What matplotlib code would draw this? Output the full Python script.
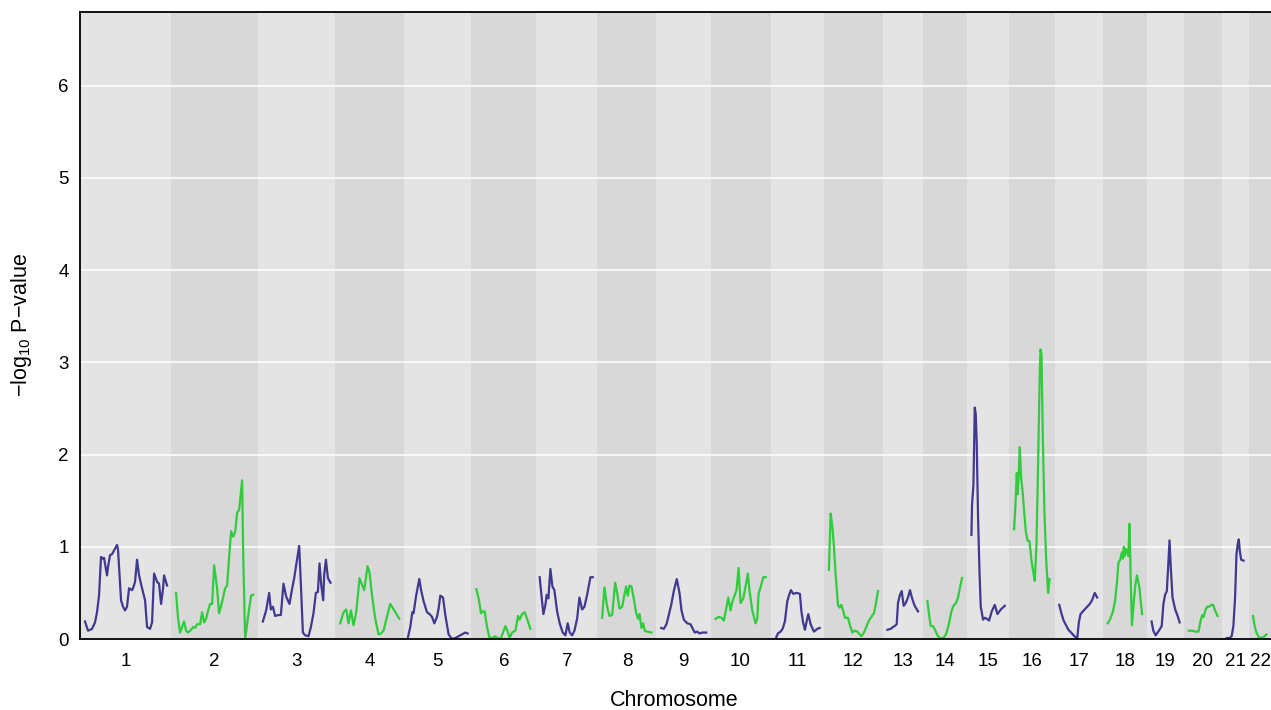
import numpy as np
import matplotlib
matplotlib.use('Agg')
import matplotlib.pyplot as plt

plt.rcParams['font.family'] = ['Liberation Sans', 'DejaVu Sans']
plt.rcParams['mathtext.default'] = 'regular'

# chromosome names and lengths (map units)
chroms = [str(i) for i in range(1, 23)]
chrom_len = [91, 87, 77, 69, 67, 65, 61, 59, 54, 60, 53, 59, 40, 44, 42, 46, 48, 44, 37, 38, 27, 23]

# positions within chromosome and -log10 p-values
pos1 = [5, 8, 12, 15, 17, 19, 21, 23, 24, 27, 28, 30, 32, 34, 37, 38, 41, 43, 45, 47, 49, 52, 53, 55, 57, 59, 62, 65, 67, 70, 72, 74, 77, 79, 81, 83, 84, 87]
val1 = [0.19, 0.09, 0.11, 0.18, 0.29, 0.47, 0.89, 0.87, 0.88, 0.69, 0.78, 0.91, 0.92, 0.96, 1.02, 0.97, 0.42, 0.35, 0.31, 0.35, 0.55, 0.53, 0.55, 0.62, 0.86, 0.69, 0.55, 0.42, 0.13, 0.11, 0.18, 0.71, 0.62, 0.60, 0.38, 0.55, 0.69, 0.58]
pos2 = [5, 7, 9, 11, 13, 15, 17, 20, 22, 24, 26, 29, 31, 33, 35, 37, 39, 41, 43, 46, 48, 50, 52, 54, 56, 58, 60, 62, 64, 66, 68, 71, 72, 74, 76, 78, 80, 82]
val2 = [0.50, 0.22, 0.07, 0.13, 0.19, 0.09, 0.07, 0.10, 0.13, 0.12, 0.16, 0.16, 0.29, 0.18, 0.22, 0.31, 0.38, 0.38, 0.80, 0.55, 0.28, 0.36, 0.45, 0.55, 0.58, 0.89, 1.17, 1.11, 1.16, 1.37, 1.40, 1.72, 0.95, 0.0, 0.16, 0.33, 0.47, 0.48]
pos3 = [4.7, 8, 11, 12.7, 14.7, 17, 20.3, 22.7, 25.3, 28, 31.3, 33.7, 36, 38.7, 41, 42.7, 44.7, 47, 50.3, 52.7, 55.3, 57.7, 59.7, 61.3, 63, 65, 66, 67.7, 69.7, 72.3]
val3 = [0.19, 0.31, 0.50, 0.32, 0.35, 0.25, 0.26, 0.26, 0.60, 0.46, 0.38, 0.53, 0.66, 0.85, 1.01, 0.59, 0.07, 0.04, 0.03, 0.13, 0.28, 0.50, 0.51, 0.82, 0.59, 0.42, 0.70, 0.86, 0.66, 0.61]
pos4 = [5, 8.3, 11, 13.3, 15.7, 18.3, 21, 24.3, 26.7, 29, 32.3, 34.3, 36.7, 40, 43.3, 45.7, 48.3, 51.7, 55, 59, 64]
val4 = [0.17, 0.29, 0.32, 0.17, 0.31, 0.15, 0.29, 0.66, 0.59, 0.53, 0.79, 0.72, 0.48, 0.22, 0.05, 0.06, 0.09, 0.24, 0.38, 0.31, 0.22]
pos5 = [3.7, 6, 8, 9.3, 11.7, 15, 17, 19.3, 22.7, 25.3, 27.7, 30, 32.7, 34.3, 36, 38.7, 41, 44.3, 47.7, 51, 56, 61, 63.3]
val5 = [0.02, 0.13, 0.29, 0.28, 0.46, 0.65, 0.52, 0.41, 0.29, 0.27, 0.24, 0.17, 0.24, 0.33, 0.47, 0.45, 0.26, 0.05, 0.0, 0.01, 0.04, 0.07, 0.06]
pos6 = [5, 7.3, 9.7, 11.7, 13.3, 15.7, 18, 20.7, 24, 27.3, 30, 34, 36.7, 38.3, 40.7, 44, 46.7, 48.3, 50.7, 53.3, 55.7, 59]
val6 = [0.54, 0.44, 0.28, 0.30, 0.30, 0.13, 0.02, 0.01, 0.03, 0.0, 0.02, 0.14, 0.07, 0.01, 0.07, 0.09, 0.25, 0.21, 0.27, 0.29, 0.22, 0.11]
pos7 = [3.3, 5, 7, 9, 10.3, 12, 14, 16, 18, 20.7, 23.3, 26.3, 29, 31.3, 33.3, 35.7, 38, 40.7, 43, 45.7, 48, 50.7, 54, 56.3]
val7 = [0.67, 0.48, 0.27, 0.37, 0.48, 0.44, 0.76, 0.57, 0.53, 0.30, 0.17, 0.07, 0.04, 0.17, 0.07, 0.04, 0.09, 0.22, 0.45, 0.32, 0.35, 0.48, 0.67, 0.67]
pos8 = [4.7, 7, 9.7, 12, 14.7, 17.7, 19.7, 22, 24.7, 27, 28.7, 30.3, 32, 34, 36.3, 38.7, 40.7, 42, 44, 45.7, 47.3, 49.7, 54]
val8 = [0.23, 0.56, 0.35, 0.25, 0.26, 0.61, 0.50, 0.33, 0.35, 0.48, 0.57, 0.47, 0.58, 0.57, 0.44, 0.28, 0.22, 0.27, 0.12, 0.17, 0.09, 0.08, 0.07]
pos9 = [4.7, 7.3, 10, 12.3, 14.7, 17.3, 20.3, 23, 25, 27.3, 30.7, 34, 36.3, 38.3, 40.7, 43, 45.7, 49.7]
val9 = [0.12, 0.11, 0.16, 0.26, 0.37, 0.52, 0.65, 0.50, 0.31, 0.21, 0.17, 0.16, 0.11, 0.07, 0.08, 0.06, 0.07, 0.07]
pos10 = [5, 8.3, 11, 13.3, 15.7, 17.7, 20, 21.7, 24, 26, 28, 30, 32.7, 35, 37.3, 39, 41.7, 45, 46.7, 48, 50, 52.7, 55.3]
val10 = [0.22, 0.24, 0.23, 0.20, 0.33, 0.45, 0.31, 0.40, 0.47, 0.53, 0.77, 0.39, 0.44, 0.57, 0.71, 0.52, 0.31, 0.17, 0.22, 0.49, 0.56, 0.67, 0.67]
pos11 = [5, 7.3, 10, 12, 14.3, 16.7, 18.3, 20.3, 22.7, 26, 29.3, 30.7, 32.3, 34.3, 36, 37.7, 40, 43.3, 46.7, 49]
val11 = [0.0, 0.06, 0.08, 0.11, 0.19, 0.41, 0.47, 0.53, 0.49, 0.50, 0.49, 0.31, 0.19, 0.10, 0.19, 0.27, 0.16, 0.08, 0.11, 0.12]
pos12 = [5.3, 7, 8.7, 10.3, 12, 14.3, 16, 17.7, 19.7, 21.3, 24.3, 26.3, 28.7, 31, 33.7, 35.3, 37.7, 40.3, 43, 45.3, 47.7, 50.3, 52, 54.3]
val12 = [0.75, 1.36, 1.22, 1.00, 0.70, 0.37, 0.34, 0.37, 0.30, 0.23, 0.23, 0.15, 0.07, 0.09, 0.08, 0.06, 0.03, 0.07, 0.14, 0.20, 0.24, 0.28, 0.37, 0.52]
pos13 = [4.7, 8, 10.3, 12, 14, 15.3, 17, 19, 21, 23, 25.3, 27.3, 29.7, 32, 35.3]
val13 = [0.10, 0.11, 0.13, 0.14, 0.16, 0.39, 0.47, 0.52, 0.36, 0.39, 0.45, 0.53, 0.43, 0.36, 0.30]
pos14 = [4.7, 6.3, 8, 10.3, 12.3, 14.7, 17.3, 20.7, 23.3, 26.3, 28.7, 30.7, 33.3, 35.3, 37.3, 39.3]
val14 = [0.41, 0.27, 0.14, 0.14, 0.10, 0.04, 0.01, 0.01, 0.05, 0.17, 0.30, 0.36, 0.39, 0.45, 0.56, 0.66]
pos15 = [4.7, 5.3, 6.7, 8, 9, 10, 11.3, 12.7, 14, 16.3, 18, 20, 22.3, 25, 28, 30.7, 34, 38]
val15 = [1.13, 1.46, 1.68, 2.51, 2.44, 2.11, 1.32, 0.74, 0.35, 0.21, 0.23, 0.22, 0.20, 0.30, 0.37, 0.27, 0.32, 0.36]
pos16 = [5.3, 6.7, 8, 9, 10, 11, 12.3, 13.7, 15.3, 17, 18.7, 20.7, 22.7, 24.3, 26, 27.7, 29.3, 31, 31.7, 32.7, 34, 35.7, 37.3, 39.3, 40.7]
val16 = [1.19, 1.46, 1.80, 1.57, 1.80, 2.08, 1.75, 1.61, 1.39, 1.17, 1.07, 1.06, 0.85, 0.74, 0.63, 1.03, 1.90, 2.91, 3.14, 3.09, 2.18, 1.35, 0.88, 0.50, 0.65]
pos17 = [4.4, 6.8, 8.8, 11.2, 13.6, 16.3, 19.6, 22.4, 24, 25.7, 28.1, 31.5, 34.9, 37.2, 39.9, 42.3]
val17 = [0.37, 0.27, 0.20, 0.15, 0.10, 0.07, 0.03, 0.01, 0.18, 0.27, 0.30, 0.34, 0.38, 0.42, 0.50, 0.45]
pos18 = [4.8, 7.1, 9.8, 12.2, 14.2, 15.6, 17.3, 19, 20, 21, 22, 23, 24.4, 25.4, 26.7, 27.7, 29.1, 30.4, 32.5, 34.1, 36.5, 39.2]
val18 = [0.17, 0.21, 0.29, 0.41, 0.63, 0.83, 0.86, 0.94, 0.87, 1.00, 0.90, 0.98, 0.94, 0.90, 1.25, 0.70, 0.15, 0.34, 0.59, 0.69, 0.56, 0.27]
pos19 = [4.7, 6.4, 8.7, 11.4, 14.8, 16.5, 18.2, 19.9, 21.2, 22.6, 23.9, 25.6, 28.3, 30.7, 32.7]
val19 = [0.19, 0.09, 0.04, 0.08, 0.14, 0.38, 0.48, 0.52, 0.77, 1.07, 0.77, 0.45, 0.32, 0.25, 0.18]
pos20 = [4.8, 8.2, 11.6, 14.6, 16.7, 18.4, 19.7, 21.4, 23.1, 25.1, 27.5, 29.2, 31.5, 33.6]
val20 = [0.09, 0.09, 0.08, 0.08, 0.20, 0.26, 0.24, 0.31, 0.35, 0.35, 0.37, 0.37, 0.30, 0.25]
pos21 = [4.7, 7.4, 9.7, 11.4, 13.1, 14.5, 15.8, 16.8, 17.9, 19.2, 21.6]
val21 = [0.01, 0.01, 0.03, 0.14, 0.45, 0.92, 1.03, 1.08, 0.95, 0.86, 0.85]
pos22 = [4, 5.7, 7.4, 9.8, 13.1, 15.5, 17.5]
val22 = [0.25, 0.14, 0.07, 0.02, 0.01, 0.03, 0.05]

positions = [pos1, pos2, pos3, pos4, pos5, pos6, pos7, pos8, pos9, pos10, pos11,
             pos12, pos13, pos14, pos15, pos16, pos17, pos18, pos19, pos20, pos21, pos22]
values = [val1, val2, val3, val4, val5, val6, val7, val8, val9, val10, val11,
          val12, val13, val14, val15, val16, val17, val18, val19, val20, val21, val22]

line_cols = ['#41398f', '#2fcc3c']
band_cols = ['#e4e4e4', '#d8d8d8']

fig = plt.figure(figsize=(12.71, 7.10), dpi=100)
ax = fig.add_axes([80 / 1271, 71 / 710, 1192 / 1271, 627 / 710])

starts = np.concatenate([[0], np.cumsum(chrom_len)[:-1]])
ymax = 6.8
for i in range(len(chroms)):
    ax.axvspan(starts[i], starts[i] + chrom_len[i], color=band_cols[i % 2], lw=0, zorder=0)
for y in range(1, 7):
    ax.axhline(y, color='white', lw=1.1, zorder=1)
for i in range(len(chroms)):
    x = starts[i] + np.array(positions[i])
    ax.plot(x, values[i], color=line_cols[i % 2], lw=1.6, zorder=2, solid_joinstyle='round')

ax.set_xlim(0, sum(chrom_len))
ax.set_ylim(0, ymax)
ax.set_xticks(starts + np.array(chrom_len) / 2)
ax.set_xticklabels(chroms)
ax.set_yticks(range(0, 7))
ax.tick_params(axis='both', length=0, labelsize=13.5)
ax.tick_params(axis='x', pad=10)
ax.tick_params(axis='y', pad=8)
for sp in ['left', 'bottom', 'top']:
    ax.spines[sp].set_linewidth(1.3)
ax.spines['right'].set_visible(False)

fig.text(674 / 1271, 1 - 700 / 710, 'Chromosome', fontsize=15.5, ha='center', va='center')
fig.text(22 / 1271, 1 - 325 / 710, '\u2212log$_{10}$ P\u2212value', fontsize=15.5,
         ha='center', va='center', rotation=90)

fig.savefig('out.png', dpi=100)
